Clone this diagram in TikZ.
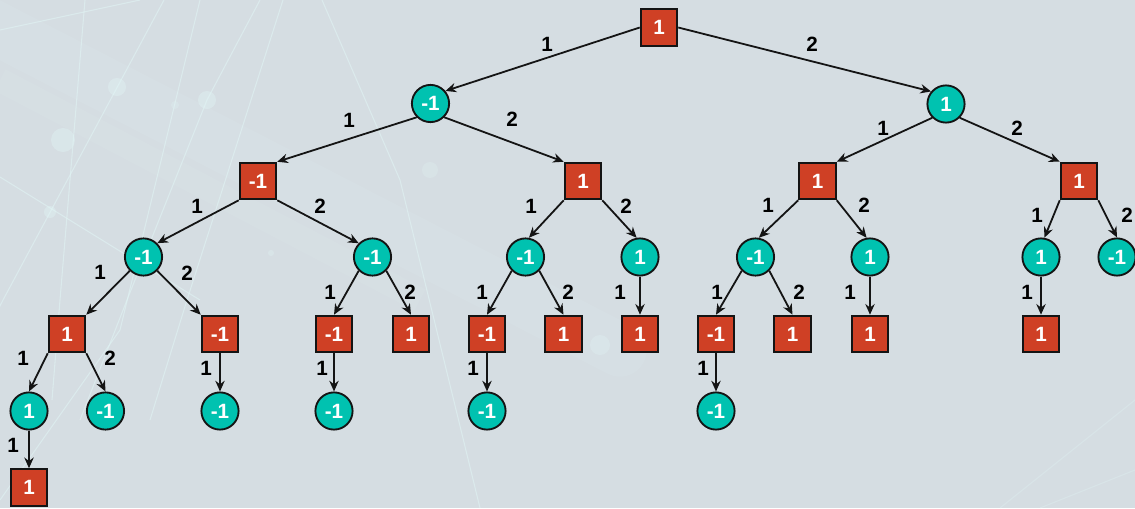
\documentclass[tikz,border=0pt]{standalone}
\usepackage{fontspec}
\setmainfont{Liberation Sans}
\usetikzlibrary{arrows.meta}
\definecolor{bgc}{RGB}{213,221,226}
\definecolor{sqred}{RGB}{207,64,37}
\definecolor{citeal}{RGB}{0,194,176}
\definecolor{edgec}{RGB}{20,20,20}
\definecolor{glowc}{RGB}{225,245,245}
\newcommand{\lblfont}{\fontsize{15.5}{18}\selectfont\bfseries}
\begin{document}
\begin{tikzpicture}[x=0.75pt,y=-0.75pt,
  sq/.style={rectangle, draw=edgec, line width=1.4pt, fill=sqred, minimum size=27.5pt, inner sep=0pt, text=white, font=\lblfont},
  ci/.style={circle, draw=edgec, line width=1.4pt, fill=citeal, minimum size=27.9pt, inner sep=0pt, text=white, font=\lblfont},
  conn/.style={line width=1.35pt, draw=edgec, -{Stealth[length=8pt,width=7pt]}},
  el/.style={font=\lblfont, text=black, inner sep=0pt},
  bgline/.style={glowc, opacity=0.55, line width=0.8pt},
  glow/.style={fill=glowc, opacity=0.4}
]
% background
\fill[bgc] (0,0) rectangle (1135,508);
\useasboundingbox (0,0) rectangle (1135,508);
\begin{scope}
\clip (0,0) rectangle (1135,508);
\draw[glowc, opacity=0.12, line width=40pt, line cap=round] (-20,20) -- (620,350);
\draw[glowc, opacity=0.10, line width=18pt] (0,80) -- (420,300);
\draw[bgline] (164,0) -- (3,300) -- (-20,345);
\draw[bgline] (260,0) -- (207,100) -- (127,300) -- (80,420);
\draw[bgline] (0,177) -- (123,253) -- (200,300);
\draw[bgline] (85,0) -- (60,300) -- (52,400);
\draw[bgline] (200,0) -- (120,330);
\draw[bgline] (283,0) -- (187,300) -- (150,420);
\draw[bgline] (322,0) -- (400,180) -- (480,508);
\draw[bgline] (0,30) -- (140,0);
\draw[bgline] (0,500) -- (120,330);
\draw[bgline, opacity=0.3] (1000,508) -- (1135,400);
\draw[bgline, opacity=0.3] (1040,508) -- (1135,470);
\fill[glow] (117,87) circle (9);
\fill[glow] (207,100) circle (9);
\fill[glow] (50,212) circle (6);
\fill[glow] (63,140) circle (12);
\fill[glow, opacity=0.25] (175,105) circle (4);
\fill[glow, opacity=0.3] (271,253) circle (3);
\fill[glow, opacity=0.3] (600,345) circle (10);
\fill[glow, opacity=0.25] (430,170) circle (8);
\end{scope}

% nodes
\node[sq] (R) at (659,27.5) {1};
\node[ci] (A) at (430.5,103.5) {-1};
\node[ci] (B) at (946,104) {1};
\node[sq] (A1) at (258,181) {-1};
\node[sq] (A2) at (583,181) {1};
\node[sq] (B1) at (817.5,181) {1};
\node[sq] (B2) at (1079,181) {1};
\node[ci] (A1a) at (143.5,257) {-1};
\node[ci] (A1b) at (372.5,257) {-1};
\node[ci] (A2a) at (525.5,257) {-1};
\node[ci] (A2b) at (640,257) {1};
\node[ci] (B1a) at (755.5,257) {-1};
\node[ci] (B1b) at (870,257) {1};
\node[ci] (B2a) at (1041,257) {1};
\node[ci] (B2b) at (1117,257) {-1};
\node[sq] (A1a1) at (67,334) {1};
\node[sq] (A1a2) at (220,334) {-1};
\node[sq] (A1b1) at (334,334) {-1};
\node[sq] (A1b2) at (411,334) {1};
\node[sq] (A2a1) at (487,334) {-1};
\node[sq] (A2a2) at (563.5,334) {1};
\node[sq] (A2b1) at (640,334) {1};
\node[sq] (B1a1) at (716,334) {-1};
\node[sq] (B1a2) at (792.5,334) {1};
\node[sq] (B1b1) at (870,334) {1};
\node[sq] (B2a1) at (1041,334) {1};
\node[ci] (P1) at (29,411) {1};
\node[ci] (P2) at (105.5,411) {-1};
\node[ci] (P3) at (220,411) {-1};
\node[ci] (P4) at (334,411) {-1};
\node[ci] (P5) at (487,411) {-1};
\node[ci] (P6) at (716,411) {-1};
\node[sq] (Q1) at (29,487.5) {1};

% connectors
\draw[conn] (R.west) -- (A.40);
\draw[conn] (R.east) -- (B.140);
\draw[conn] (A.south west) -- (A1.north east);
\draw[conn] (A.south east) -- (A2.north west);
\draw[conn] (B.south west) -- (B1.north east);
\draw[conn] (B.south east) -- (B2.north west);
\draw[conn] (A1.south west) -- (A1a.north east);
\draw[conn] (A1.south east) -- (A1b.north west);
\draw[conn] (A2.south west) -- (A2a.80);
\draw[conn] (A2.south east) -- (A2b.100);
\draw[conn] (B1.south west) -- (B1a.80);
\draw[conn] (B1.south east) -- (B1b.100);
\draw[conn] (B2.south west) -- (B2a.80);
\draw[conn] (B2.south east) -- (B2b.north);
\draw[conn] (A1a.south west) -- (A1a1.north east);
\draw[conn] (A1a.south east) -- (A1a2.north west);
\draw[conn] (A1b.south west) -- (A1b1.north);
\draw[conn] (A1b.south east) -- (A1b2.north);
\draw[conn] (A2a.south west) -- (A2a1.north);
\draw[conn] (A2a.south east) -- (A2a2.north);
\draw[conn] (A2b.south) -- (A2b1.north);
\draw[conn] (B1a.south west) -- (B1a1.north);
\draw[conn] (B1a.south east) -- (B1a2.north);
\draw[conn] (B1b.south) -- (B1b1.north);
\draw[conn] (B2a.south) -- (B2a1.north);
\draw[conn] (A1a1.south west) -- (P1.north);
\draw[conn] (A1a1.south east) -- (P2.north);
\draw[conn] (A1a2.south) -- (P3.north);
\draw[conn] (A1b1.south) -- (P4.north);
\draw[conn] (A2a1.south) -- (P5.north);
\draw[conn] (B1a1.south) -- (P6.north);
\draw[conn] (P1.south) -- (Q1.north);

% labels
\node[el] (lRA) at (547,44) {1};
\node[el] (lRB) at (812,44) {2};
\node[el] (lA1) at (349,120) {1};
\node[el] (lA2) at (512,119) {2};
\node[el] (lB1) at (883,128) {1};
\node[el] (lB2) at (1017,128) {2};
\node[el] (lA1a) at (197,206) {1};
\node[el] (lA1b) at (320,206) {2};
\node[el] (lA2a) at (531,206) {1};
\node[el] (lA2b) at (626,206) {2};
\node[el] (lB1a) at (768,205) {1};
\node[el] (lB1b) at (864,205) {2};
\node[el] (lB2a) at (1037,215) {1};
\node[el] (lB2b) at (1127,215) {2};
\node[el] (lA1a1) at (100,272) {1};
\node[el] (lA1a2) at (187,273) {2};
\node[el] (lA1b1) at (330,292) {1};
\node[el] (lA1b2) at (410,292) {2};
\node[el] (lA2a1) at (482,292) {1};
\node[el] (lA2a2) at (568,292) {2};
\node[el] (lA2b1) at (620,292) {1};
\node[el] (lB1a1) at (717,292) {1};
\node[el] (lB1a2) at (799,292) {2};
\node[el] (lB1b1) at (850,292) {1};
\node[el] (lB2a1) at (1027,292) {1};
\node[el] (lP1) at (23,358) {1};
\node[el] (lP2) at (110,358) {2};
\node[el] (lP3) at (206,368) {1};
\node[el] (lP4) at (322,368) {1};
\node[el] (lP5) at (473,368) {1};
\node[el] (lP6) at (703,368) {1};
\node[el] (lQ1) at (13,445) {1};
\end{tikzpicture}
\end{document}
